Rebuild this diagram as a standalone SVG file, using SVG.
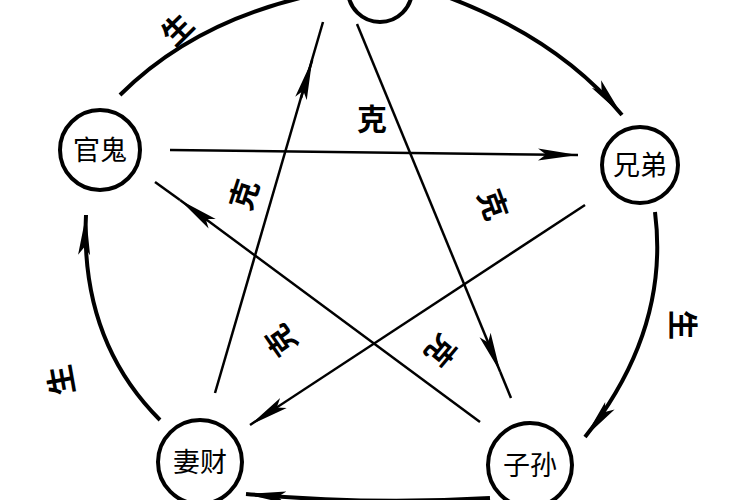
<svg xmlns="http://www.w3.org/2000/svg" width="750" height="500" viewBox="0 0 750 500">
<style>
.n{fill:#fff;stroke:#000;stroke-width:4}
.t{font-family:"Noto Sans CJK SC",sans-serif;font-size:27px;text-anchor:middle;fill:#000}
.k{font-family:"Noto Sans CJK SC",sans-serif;font-size:30px;text-anchor:middle;fill:#000;font-weight:bold}
.l{fill:none;stroke:#000;stroke-width:2.5}
.a{fill:none;stroke:#000;stroke-width:4}
</style>
<defs>
<marker id="m" viewBox="0 0 40 14" refX="40" refY="7" markerWidth="40" markerHeight="14" markerUnits="userSpaceOnUse" orient="auto"><path d="M0,1 L40,7 L0,13 L8,7 Z"/></marker>
</defs>
<g id="connectors">
<path class="a" d="M120,95 Q190,25 300,-2"/>
<path class="a" d="M450,-2 Q560,40 622,115" marker-end="url(#m)"/>
<path class="a" d="M655,212 Q670,330 585,437" marker-end="url(#m)"/>
<path class="a" d="M490,498 Q370,505 246,494" marker-end="url(#m)"/>
<path class="a" d="M160,420 Q80,340 86,215" marker-end="url(#m)"/>
<path class="l" d="M215,393 L323,22"/>
<path class="l" d="M301.1,98 L312.2,60" marker-end="url(#m)"/>
<path class="l" d="M357,24 L500.3,372" marker-end="url(#m)"/>
<path class="l" d="M500.3,372 L511,398"/>
<path class="l" d="M170,150 L578,155" marker-end="url(#m)"/>
<path class="l" d="M585,205 L250,425" marker-end="url(#m)"/>
<path class="l" d="M480,422 L180,200" marker-end="url(#m)"/>
<path class="l" d="M180,200 L155,182"/>
</g>
<g id="labels">
<text class="k" transform="translate(178,30) rotate(-45)" y="10">生</text>
<text class="k" x="372" y="130">克</text>
<text class="k" transform="translate(245,195) rotate(-72)" y="10">克</text>
<text class="k" transform="translate(492,205) rotate(70)" y="10">克</text>
<text class="k" transform="translate(282,340) rotate(-125)" y="10">克</text>
<text class="k" transform="translate(440,350) rotate(130)" y="10">克</text>
<text class="k" transform="translate(682,325) rotate(90)" y="10">生</text>
<text class="k" transform="translate(62,380) rotate(-100)" y="10">生</text>
</g>
<g id="top"><circle class="n" cx="380" cy="-10" r="32"/></g>
<g id="guangui"><circle class="n" cx="100" cy="150" r="40"/><text class="t" x="100" y="160">官鬼</text></g>
<g id="xiongdi"><circle class="n" cx="640" cy="165" r="38"/><text class="t" x="640" y="175">兄弟</text></g>
<g id="qicai"><circle class="n" cx="200" cy="462" r="42"/><text class="t" x="200" y="472">妻财</text></g>
<g id="zisun"><circle class="n" cx="530" cy="465" r="42"/><text class="t" x="530" y="475">子孙</text></g>
</svg>
